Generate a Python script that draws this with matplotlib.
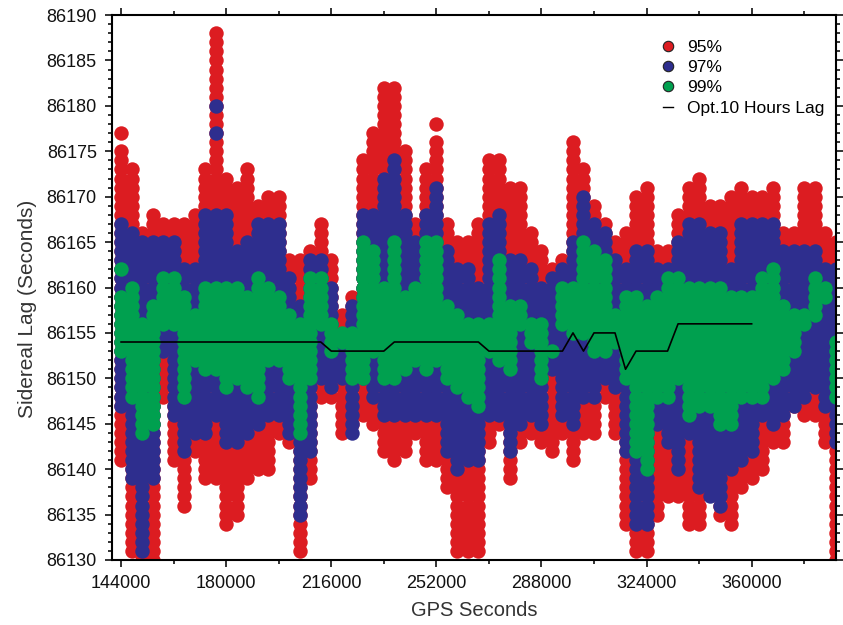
import numpy as np
import matplotlib
matplotlib.use('Agg')
import matplotlib.pyplot as plt
from matplotlib.lines import Line2D
from matplotlib.ticker import MultipleLocator

plt.rcParams['font.family'] = ['Liberation Sans', 'DejaVu Sans']

# epochs (GPS seconds), one column per hour
gps_sec = [144000 + 3600 * k for k in range(69)]

# lag range per column for each confidence level (seconds)
red_lo = [86141, 86131, 86130, 86131, 86148, 86141, 86136, 86142, 86139, 86139,
          86134, 86135, 86139, 86140, 86140, 86144, 86143, 86131, 86139, 86148,
          86148, 86144, 86145, 86146, 86145, 86142, 86141, 86142, 86144, 86141,
          86141, 86138, 86131, 86131, 86131, 86144, 86145, 86139, 86143, 86144,
          86143, 86142, 86144, 86141, 86144, 86144, 86148, 86144, 86134, 86131,
          86131, 86135, 86137, 86137, 86134, 86134, 86138, 86135, 86134, 86138,
          86139, 86140, 86143, 86143, 86147, 86146, 86146, 86143, 86130]
red_hi = [86175, 86173, 86166, 86168, 86167, 86167, 86167, 86168, 86173, 86188,
          86172, 86171, 86173, 86169, 86170, 86170, 86163, 86163, 86164, 86167,
          86163, 86157, 86159, 86174, 86177, 86182, 86182, 86175, 86167, 86173,
          86176, 86167, 86165, 86165, 86167, 86174, 86174, 86171, 86171, 86166,
          86164, 86162, 86163, 86176, 86173, 86169, 86167, 86165, 86166, 86170,
          86171, 86164, 86164, 86168, 86171, 86172, 86169, 86169, 86170, 86171,
          86170, 86170, 86171, 86166, 86166, 86171, 86171, 86166, 86165]
blue_lo = [86147, 86139, 86131, 86139, 86153, 86146, 86142, 86144, 86144, 86146,
           86143, 86143, 86144, 86145, 86146, 86146, 86144, 86135, 86142, 86150,
           86149, 86150, 86144, 86150, 86148, 86146, 86146, 86146, 86146, 86146,
           86146, 86142, 86140, 86141, 86141, 86146, 86146, 86142, 86145, 86146,
           86145, 86151, 86146, 86145, 86148, 86148, 86150, 86149, 86142, 86134,
           86134, 86145, 86143, 86140, 86144, 86138, 86137, 86136, 86140, 86141,
           86142, 86146, 86145, 86146, 86147, 86148, 86149, 86147, 86143]
blue_hi = [86167, 86166, 86165, 86165, 86165, 86165, 86162, 86162, 86168, 86168,
           86168, 86164, 86165, 86167, 86167, 86167, 86161, 86158, 86163, 86163,
           86160, 86154, 86158, 86168, 86168, 86172, 86174, 86168, 86165, 86168,
           86171, 86164, 86162, 86162, 86160, 86167, 86168, 86163, 86163, 86162,
           86160, 86161, 86162, 86165, 86170, 86167, 86166, 86163, 86162, 86164,
           86164, 86162, 86162, 86165, 86167, 86167, 86166, 86166, 86162, 86167,
           86167, 86167, 86167, 86164, 86164, 86164, 86164, 86162, 86162]
green_lo = [86153, 86148, 86144, 86145, 86156, 86156, 86148, 86152, 86151, 86151,
            86149, 86150, 86149, 86148, 86152, 86152, 86150, 86144, 86150, 86156,
            86153, 86154, 86150, 86150, 86153, 86150, 86150, 86151, 86152, 86151,
            86152, 86150, 86149, 86148, 86147, 86153, 86152, 86151, 86156, 86154,
            86150, 86153, 86156, 86155, 86155, 86153, 86153, 86154, 86150, 86142,
            86140, 86148, 86148, 86150, 86146, 86147, 86147, 86145, 86145, 86148,
            86148, 86148, 86150, 86151, 86153, 86156, 86157, 86159, 86148]
green_hi = [86159, 86160, 86156, 86158, 86161, 86161, 86159, 86157, 86160, 86160,
            86160, 86160, 86159, 86161, 86160, 86159, 86157, 86156, 86161, 86161,
            86156, 86155, 86155, 86165, 86164, 86160, 86165, 86159, 86160, 86165,
            86165, 86158, 86157, 86156, 86156, 86156, 86163, 86158, 86158, 86156,
            86156, 86153, 86160, 86160, 86165, 86164, 86163, 86157, 86159, 86159,
            86158, 86159, 86161, 86161, 86160, 86160, 86160, 86160, 86159, 86159,
            86159, 86161, 86162, 86158, 86157, 86157, 86161, 86160, 86154]

# isolated dots outside the ranges above
extra_x = [144000, 176400, 176400, 252000, 154800, 270000, 144000]
extra_y = [86177, 86180, 86177, 86178, 86130, 86143, 86162]
extra_c = ['r', 'b', 'b', 'r', 'r', 'r', 'g']

# optimal 10 hours lag
lag_x = [144000 + 3600 * k for k in range(61)]
lag_y = ([86154] * 20 + [86153] * 6 + [86154] * 9 + [86153] * 8 +
         [86155, 86153, 86155, 86155, 86155, 86151] + [86153] * 4 + [86156] * 8)

col_red = '#dc1c21'
col_blue = '#2e2e8e'
col_green = '#00a04f'


def expand(lo, hi):
    xs, ys = [], []
    for x, a, b in zip(gps_sec, lo, hi):
        for v in range(a, b + 1):
            xs.append(x)
            ys.append(v)
    return xs, ys


fig = plt.figure(figsize=(8.43, 6.25), dpi=100)
ax = fig.add_axes([0.1329, 0.104, 0.8588, 0.872])

msize = 108
for lo, hi, c, key in [(red_lo, red_hi, col_red, 'r'),
                       (blue_lo, blue_hi, col_blue, 'b'),
                       (green_lo, green_hi, col_green, 'g')]:
    xs, ys = expand(lo, hi)
    ex = [x for x, cc in zip(extra_x, extra_c) if cc == key]
    ey = [y for y, cc in zip(extra_y, extra_c) if cc == key]
    ax.scatter(xs + ex, ys + ey, s=msize, c=c, linewidths=0, zorder=2)

ax.plot(lag_x, lag_y, color='black', lw=1.2, zorder=4)

ax.set_xlim(140900, 388900)
ax.set_ylim(86130, 86190)
ax.xaxis.set_major_locator(MultipleLocator(36000))
ax.xaxis.set_minor_locator(MultipleLocator(18000))
ax.yaxis.set_major_locator(MultipleLocator(5))
ax.yaxis.set_minor_locator(MultipleLocator(1))
ax.ticklabel_format(useOffset=False, style='plain')
ax.tick_params(which='both', direction='out', top=True, right=True,
               labeltop=False, labelright=False, width=1.2, labelsize=13,
               colors='#111111')
ax.tick_params(which='major', length=5, pad=6)
ax.tick_params(which='minor', length=3)
for sp in ax.spines.values():
    sp.set_linewidth(1.5)

ax.set_xlabel('GPS Seconds', fontsize=14.5, color='#333333', labelpad=6)
ax.set_ylabel('Sidereal Lag (Seconds)', fontsize=15, color='#333333')
ax.yaxis.set_label_coords(-0.104, 0.46)

handles = [
    Line2D([], [], ls='none', marker='o', ms=7.5, mfc=col_red, mec='#222222', mew=0.8),
    Line2D([], [], ls='none', marker='o', ms=7.5, mfc=col_blue, mec='#222222', mew=0.8),
    Line2D([], [], ls='none', marker='o', ms=7.5, mfc=col_green, mec='#222222', mew=0.8),
    Line2D([], [], color='black', lw=1.0),
]
labels = ['95%', '97%', '99%', 'Opt.10 Hours Lag']
ax.legend(handles, labels, loc='upper left', bbox_to_anchor=(0.761, 0.955),
          frameon=False, fontsize=12.5, handlelength=0.6, handletextpad=0.8,
          labelspacing=0.3, borderaxespad=0, borderpad=0)

fig.savefig('out.png', dpi=100)
